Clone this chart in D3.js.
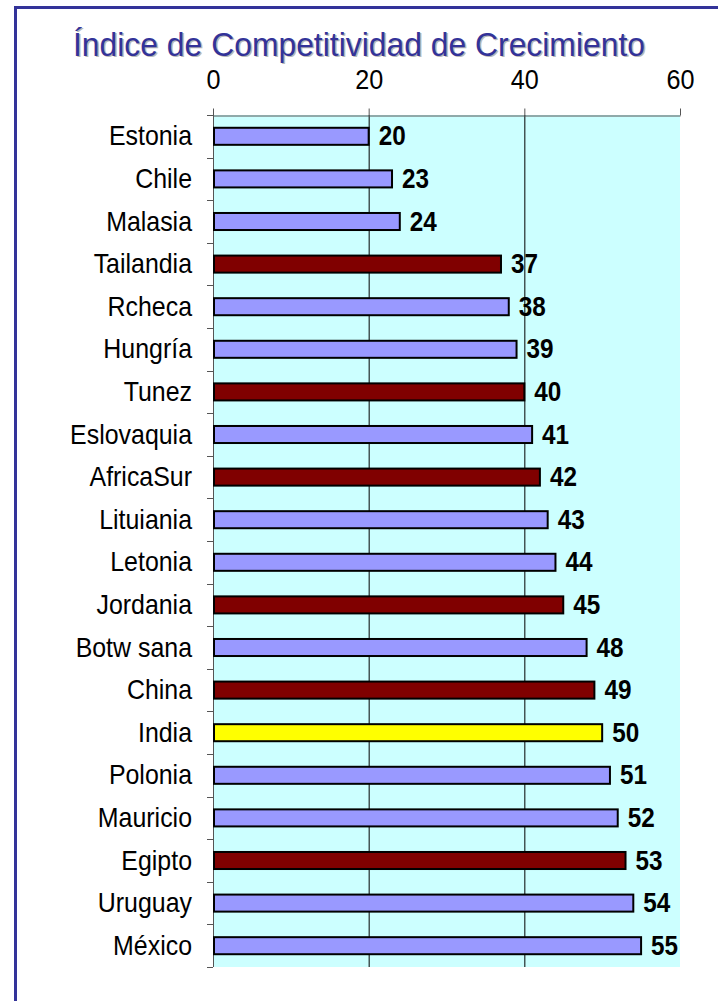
<!DOCTYPE html>
<html><head><meta charset="utf-8">
<script src="https://cdn.jsdelivr.net/npm/d3@7"></script>
<style>html,body{margin:0;padding:0;background:#fff;}svg{display:block;}</style>
</head><body>
<svg id="c" width="718" height="1001"></svg>
<script>
const title = "Índice de Competitividad de Crecimiento";
const categories = ["Estonia","Chile","Malasia","Tailandia","Rcheca","Hungría","Tunez","Eslovaquia","AfricaSur","Lituiania","Letonia","Jordania","Botw sana","China","India","Polonia","Mauricio","Egipto","Uruguay","México"];
const values = [20,23,24,37,38,39,40,41,42,43,44,45,48,49,50,51,52,53,54,55];
const groups = ["a","a","a","b","a","a","b","a","b","a","a","b","a","b","c","a","a","b","a","a"];
const tickValues = [0,20,40,60];
const groupColors = {a:"#9999FF", b:"#800000", c:"#FFFF00"};

const data = categories.map((c,i)=>({cat:c, val:values[i], grp:groups[i]}));
const svg = d3.select("#c");
const FONT = "'Liberation Sans', Arial, sans-serif";

// frame
svg.append("line").attr("x1",14).attr("x2",718).attr("y1",7.5).attr("y2",7.5).attr("stroke","#333399").attr("stroke-width",3);
svg.append("line").attr("x1",15.5).attr("x2",15.5).attr("y1",6).attr("y2",1001).attr("stroke","#333399").attr("stroke-width",3);

// title with soft shadow
[["#b8b8b8",1.5],["#333399",0]].forEach(([col,off])=>{
  svg.append("text").attr("x",73+off).attr("y",55.5+off).attr("font-family",FONT).attr("font-size",33)
    .attr("fill",col).attr("textLength",572).attr("lengthAdjust","spacingAndGlyphs").text(title);
});

const x = d3.scaleLinear().domain([0,60]).range([213,680]);
const y = d3.scaleBand().domain(categories).range([115,967]).paddingInner(0.6).paddingOuter(0.3);

// plot background
svg.append("rect").attr("x",x(0)).attr("y",115).attr("width",x(60)-x(0)).attr("height",967-115).attr("fill","#CCFFFF");

// gridlines
svg.append("g").selectAll("line").data([20,40]).join("line")
  .attr("x1",d=>x(d)+0.5).attr("x2",d=>x(d)+0.5).attr("y1",115).attr("y2",967)
  .attr("stroke","#000").attr("stroke-width",1);

// top axis
const ax = svg.append("g").attr("transform","translate(0,115.5)")
  .call(d3.axisTop(x).tickValues(tickValues).tickSize(7).tickSizeOuter(0).tickPadding(20).tickFormat(d3.format("d")));
ax.select(".domain").attr("stroke","#555");
ax.selectAll(".tick line").attr("stroke","#555");
ax.selectAll(".tick text").attr("font-family",FONT).attr("font-size",28).attr("fill","#000")
  .attr("transform","scale(0.9,1)");

// left axis line + ticks at band boundaries
const step = y.step();
const bounds = d3.range(categories.length+1).map(i=>115 + i*step);
svg.append("line").attr("x1",213.5).attr("x2",213.5).attr("y1",115).attr("y2",967).attr("stroke","#555").attr("stroke-width",1);
svg.append("g").selectAll("line").data(bounds).join("line")
  .attr("x1",207).attr("x2",213).attr("y1",d=>Math.round(d)+0.5).attr("y2",d=>Math.round(d)+0.5)
  .attr("stroke","#555").attr("stroke-width",1);

// bars
svg.append("g").selectAll("rect").data(data).join("rect")
  .attr("x",x(0)+1).attr("y",d=>y(d.cat)).attr("width",d=>x(d.val)-x(0)-1).attr("height",y.bandwidth())
  .attr("fill",d=>groupColors[d.grp]).attr("stroke","#000").attr("stroke-width",2);

// category labels
svg.append("g").selectAll("text").data(data).join("text")
  .attr("transform",d=>`translate(192,${y(d.cat)+y.bandwidth()/2+9}) scale(0.89,1)`)
  .attr("text-anchor","end").attr("font-family",FONT).attr("font-size",28).attr("fill","#000")
  .text(d=>d.cat);

// value labels
svg.append("g").selectAll("text").data(data).join("text")
  .attr("transform",d=>`translate(${x(d.val)+10},${y(d.cat)+y.bandwidth()/2+9}) scale(0.9,1)`)
  .attr("font-family",FONT).attr("font-size",27).attr("font-weight","bold").attr("fill","#000")
  .text(d=>d.val);
</script>
</body></html>
